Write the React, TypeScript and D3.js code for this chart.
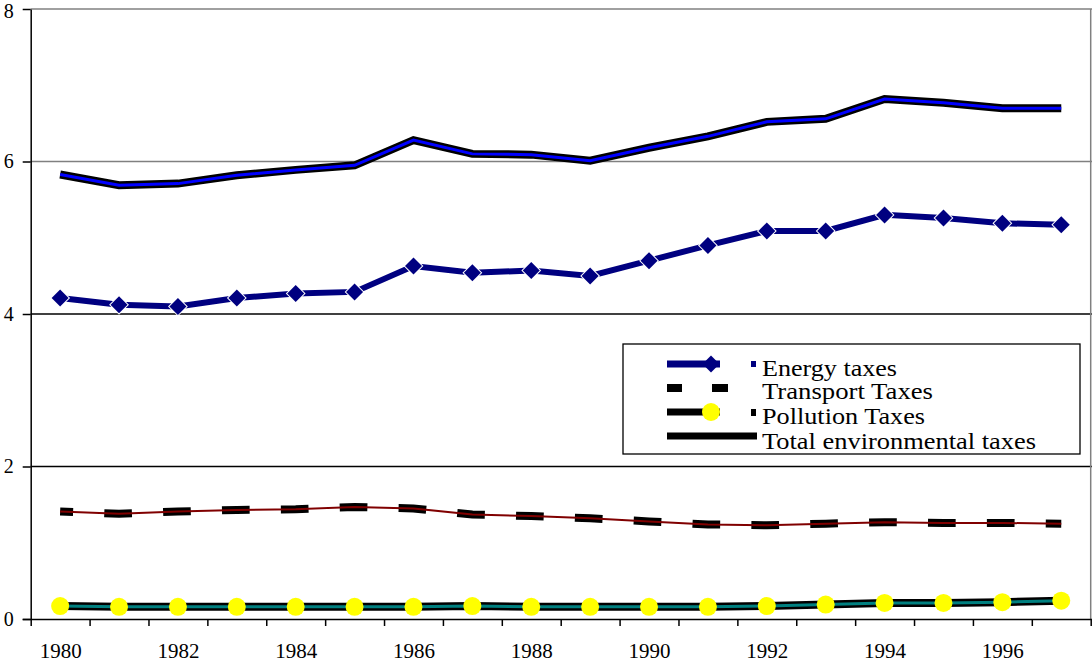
import * as d3 from "d3";
import { useEffect, useRef } from "react";

const years = [1980, 1981, 1982, 1983, 1984, 1985, 1986, 1987, 1988, 1989, 1990, 1991, 1992, 1993, 1994, 1995, 1996, 1997];
const energy = [4.21, 4.12, 4.10, 4.21, 4.27, 4.29, 4.63, 4.54, 4.57, 4.50, 4.70, 4.90, 5.09, 5.09, 5.30, 5.26, 5.19, 5.17];
const transport = [1.41, 1.38, 1.41, 1.43, 1.44, 1.47, 1.45, 1.37, 1.35, 1.32, 1.28, 1.24, 1.23, 1.25, 1.27, 1.26, 1.26, 1.25];
const pollution = [0.17, 0.16, 0.16, 0.16, 0.16, 0.16, 0.16, 0.17, 0.16, 0.16, 0.16, 0.16, 0.17, 0.19, 0.21, 0.21, 0.22, 0.24];
const total = [5.83, 5.69, 5.71, 5.82, 5.89, 5.95, 6.28, 6.10, 6.09, 6.01, 6.18, 6.33, 6.52, 6.56, 6.82, 6.77, 6.70, 6.70];
const yTicks = [0, 2, 4, 6, 8];
const xLabels = [1980, 1982, 1984, 1986, 1988, 1990, 1992, 1994, 1996];
const legendNames = ["Energy taxes", "Transport Taxes", "Pollution Taxes", "Total environmental taxes"];

const FONT = "'Liberation Serif', 'Times New Roman', Tinos, 'DejaVu Serif', 'Noto Serif', serif";

const App = () => {
  const svgRef = useRef<SVGSVGElement>(null);

  useEffect(() => {
    const w = 1092;
    const h = 665;
    const svg = d3.select(svgRef.current).attr("width", w).attr("height", h);
    svg.selectAll("*").remove();

    const left = 30.7;
    const right = 1090.7;
    const x = d3.scaleLinear().domain([1979.5, 1997.5]).range([left, right]);
    const y = d3.scaleLinear().domain([0, 8]).range([619, 9]);

    // gridlines
    svg.append("g")
      .selectAll("line")
      .data(yTicks.filter((t) => t > 0))
      .join("line")
      .attr("x1", left)
      .attr("x2", w)
      .attr("y1", (d) => y(d))
      .attr("y2", (d) => y(d))
      .attr("stroke", (d) => (d >= 6 ? "#808080" : "#000"))
      .attr("stroke-width", 1.3);

    // right border
    svg.append("line")
      .attr("x1", right).attr("x2", right)
      .attr("y1", y(8)).attr("y2", y(0))
      .attr("stroke", "#808080").attr("stroke-width", 1.5);

    // y axis
    const yAxis = d3.axisLeft(y).tickValues(yTicks).tickSize(8).tickSizeOuter(0).tickPadding(9);
    const gy = svg.append("g").attr("transform", `translate(${left},0)`).call(yAxis);
    gy.attr("font-family", FONT).attr("font-size", 20);
    gy.selectAll("path,line").attr("stroke", "#000").attr("stroke-width", 1.5);
    gy.selectAll("text").attr("fill", "#000")
      .attr("dy", (d) => (d === 8 ? "0.42em" : "0.32em"));

    // x axis: ticks at band edges, labels at points
    const edges = d3.range(1979.5, 1998, 1);
    const xAxis = d3.axisBottom(x).tickValues(edges).tickSize(7).tickSizeOuter(0).tickFormat(() => "");
    const gx = svg.append("g").attr("transform", `translate(0,${y(0)})`).call(xAxis);
    gx.select(".domain").attr("d", `M${left - 8},0.5H${w}`);
    gx.selectAll("path,line").attr("stroke", "#000").attr("stroke-width", 1.5);
    const xLab = d3.axisBottom(x).tickValues(xLabels).tickSize(0).tickPadding(25).tickFormat(d3.format("d"));
    const gl = svg.append("g").attr("transform", `translate(0,${y(0)})`).call(xLab);
    gl.attr("font-family", FONT).attr("font-size", 20);
    gl.select(".domain").remove();
    gl.selectAll("text").attr("fill", "#000").attr("textLength", 42).attr("lengthAdjust", "spacingAndGlyphs");

    const line = (vals: number[]) =>
      d3.line<number>().x((_, i) => x(years[i])).y((d) => y(d))(vals) as string;

    // pollution taxes
    svg.append("path").attr("d", line(pollution)).attr("fill", "none").attr("stroke", "#000").attr("stroke-width", 8);
    svg.append("path").attr("d", line(pollution)).attr("fill", "none").attr("stroke", "#008080").attr("stroke-width", 3);
    svg.append("g").selectAll("circle").data(pollution).join("circle")
      .attr("cx", (_, i) => x(years[i])).attr("cy", (d) => y(d)).attr("r", 9).attr("fill", "#ffff00");

    // transport taxes
    const bw = x(1981) - x(1980);
    svg.append("path").attr("d", line(transport)).attr("fill", "none").attr("stroke", "#000")
      .attr("stroke-width", 8).attr("stroke-dasharray", `${bw * 0.47} ${bw * 0.53}`).attr("stroke-dashoffset", bw * 0.25);
    svg.append("path").attr("d", line(transport)).attr("fill", "none").attr("stroke", "#800000").attr("stroke-width", 2);

    // energy taxes
    svg.append("path").attr("d", line(energy)).attr("fill", "none").attr("stroke", "#000080").attr("stroke-width", 6);
    const diamond = "M0,-8.5L8.5,0L0,8.5L-8.5,0Z";
    svg.append("g").selectAll("path").data(energy).join("path")
      .attr("d", diamond)
      .attr("transform", (d, i) => `translate(${x(years[i])},${y(d)})`)
      .attr("fill", "#000080").attr("stroke", "#fff").attr("stroke-width", 2).attr("paint-order", "stroke");

    // total environmental taxes
    svg.append("path").attr("d", line(total)).attr("fill", "none").attr("stroke", "#000").attr("stroke-width", 8);
    svg.append("path").attr("d", line(total)).attr("fill", "none").attr("stroke", "#0000ff").attr("stroke-width", 3);

    // legend
    const lg = svg.append("g");
    lg.append("rect").attr("x", 623).attr("y", 344).attr("width", 457).attr("height", 110)
      .attr("fill", "#fff").attr("stroke", "#000").attr("stroke-width", 1.3);
    const rowY = [364, 388, 412, 436];
    const lx0 = 667;
    const lx1 = 720;
    // energy
    lg.append("line").attr("x1", lx0).attr("x2", lx1).attr("y1", rowY[0]).attr("y2", rowY[0]).attr("stroke", "#000080").attr("stroke-width", 7);
    lg.append("path").attr("d", diamond).attr("transform", `translate(711,${rowY[0]})`).attr("fill", "#000080");
    lg.append("rect").attr("x", 751).attr("y", rowY[0] - 3).attr("width", 5).attr("height", 6).attr("fill", "#000080");
    // transport
    lg.append("line").attr("x1", lx0).attr("x2", 682).attr("y1", rowY[1]).attr("y2", rowY[1]).attr("stroke", "#000").attr("stroke-width", 8);
    lg.append("line").attr("x1", 712).attr("x2", 728).attr("y1", rowY[1]).attr("y2", rowY[1]).attr("stroke", "#000").attr("stroke-width", 8);
    // pollution
    lg.append("line").attr("x1", lx0).attr("x2", lx1).attr("y1", rowY[2]).attr("y2", rowY[2]).attr("stroke", "#000").attr("stroke-width", 7);
    lg.append("circle").attr("cx", 711).attr("cy", rowY[2]).attr("r", 9).attr("fill", "#ffff00");
    lg.append("rect").attr("x", 751).attr("y", rowY[2] - 3).attr("width", 5).attr("height", 7).attr("fill", "#000");
    // total
    lg.append("line").attr("x1", lx0).attr("x2", 757).attr("y1", rowY[3]).attr("y2", rowY[3]).attr("stroke", "#000").attr("stroke-width", 7);

    const textWidths = [135, 171, 163, 274];
    lg.append("g").attr("font-family", FONT).attr("font-size", 23)
      .selectAll("text").data(legendNames).join("text")
      .attr("x", 762)
      .attr("y", (_, i) => [376, 399, 424, 449][i])
      .attr("textLength", (_, i) => textWidths[i])
      .attr("lengthAdjust", "spacingAndGlyphs")
      .attr("fill", "#000")
      .text((d) => d);
  }, []);

  return (
    <div style={{ position: "absolute", left: 0, top: 0, background: "#fff" }}>
      <svg ref={svgRef} style={{ display: "block" }}></svg>
    </div>
  );
};

export default App;
